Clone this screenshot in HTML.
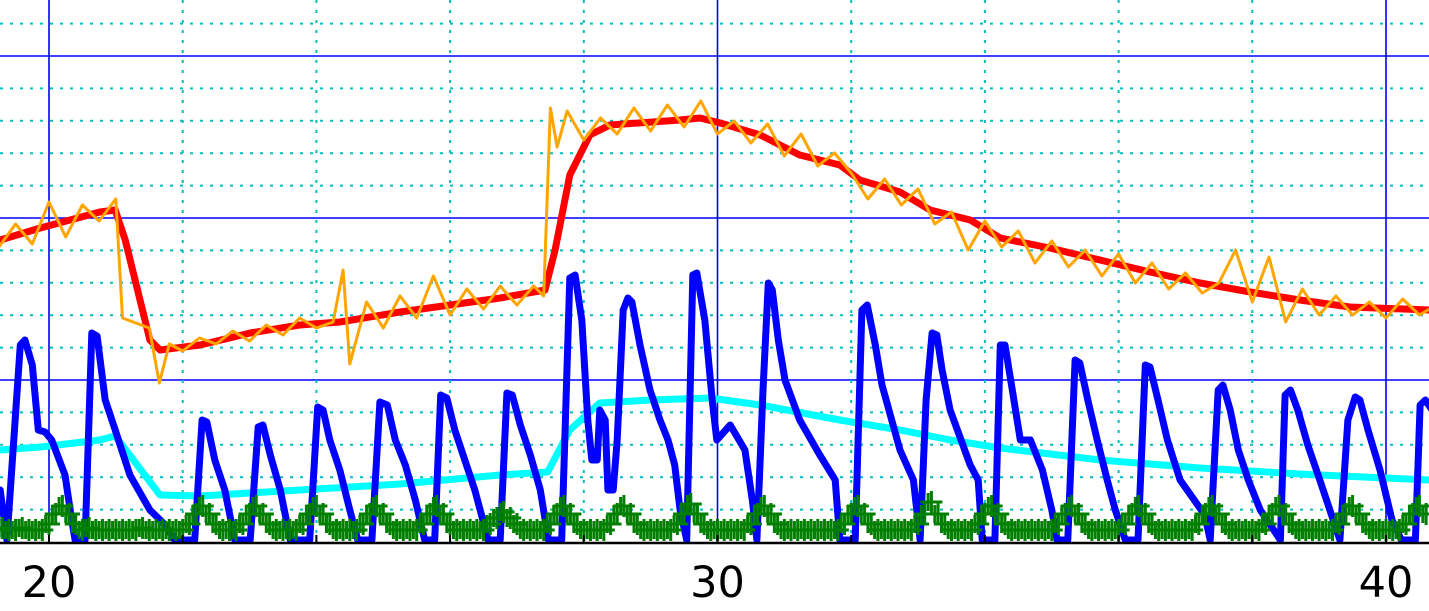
<!DOCTYPE html>
<html><head><meta charset="utf-8"><style>
html,body{margin:0;padding:0;background:#fff;}
svg{display:block;}
text{font-family:"DejaVu Sans","Liberation Sans",sans-serif;}
</style></head><body>
<svg id="chart" width="1429" height="611" viewBox="0 0 1429 611" xmlns="http://www.w3.org/2000/svg">
<defs><clipPath id="plotClip"><rect x="0" y="0" width="1429" height="543"/></clipPath></defs>
<g id="grid"></g>
<g id="series" clip-path="url(#plotClip)"></g>
<g id="axis"></g>
</svg>
<script>
// ---- data ----
const xTickLabels = [20, 30, 40];
const xMinorTicks = [20, 22, 24, 26, 28, 30, 32, 34, 36, 38, 40];
const yMinorStep = 32.4;
const yMajorStep = 162;

const redX = [19.27,19.87,20.76,20.99,21.14,21.51,21.66,22.26,23.01,23.75,24.35,25.25,26.00,26.75,27.42,27.57,27.79,28.09,28.39,29.44,29.74,30.04,30.64,31.23,31.83,32.13,32.73,33.18,33.78,34.23,34.97,35.72,36.47,37.22,37.97,38.71,39.46,40.64];
const redY = [302,314,330,332,302,202,192,197,209,217,220,230,237,244,252,292,367,407,417,422,424,419,407,387,377,362,350,332,322,304,294,282,270,259,250,242,235,232];

const orangeX = [19.25,19.5,19.75,20.0,20.25,20.5,20.75,21.0,21.1,21.5,21.65,21.8,22.0,22.25,22.5,22.75,23.0,23.25,23.5,23.75,24.0,24.25,24.4,24.5,24.75,25.0,25.25,25.5,25.75,26.0,26.25,26.5,26.75,27.0,27.25,27.4,27.5,27.6,27.75,28.0,28.25,28.5,28.75,29.0,29.25,29.5,29.75,30.0,30.25,30.5,30.75,31.0,31.25,31.5,31.75,32.0,32.25,32.5,32.75,33.0,33.25,33.5,33.75,34.0,34.25,34.5,34.75,35.0,35.25,35.5,35.75,36.0,36.25,36.5,36.75,37.0,37.25,37.5,37.75,38.0,38.25,38.5,38.75,39.0,39.25,39.5,39.75,40.0,40.25,40.5,40.65];
const orangeY = [295,318,298,340,305,337,321,343,224,214,159,198,191,204,198,211,201,217,207,224,214,220,272,178,240,214,246,224,266,227,253,233,256,237,256,246,434,395,431,402,424,408,434,411,437,415,441,408,421,399,418,386,408,376,389,369,343,363,337,353,318,330,292,321,295,311,279,301,275,292,266,288,259,279,253,269,249,259,292,240,285,220,253,227,246,227,240,224,243,227,233];

const cyanX = [19.27,19.87,20.76,20.99,21.66,22.26,23.75,25.25,26.75,27.46,27.79,28.24,28.99,29.89,30.64,31.83,32.73,33.48,34.23,35.72,37.22,38.71,40.64];
const cyanY = [92,95,102,106,47,46,52,58,67,70,112,139,142,144,137,122,112,102,94,82,74,68,62];

const blueX = [19.27,19.37,19.57,19.64,19.75,19.84,19.94,20.04,20.24,20.34,20.39,20.54,20.64,20.72,20.84,20.99,21.21,21.51,21.74,21.88,22.18,22.29,22.36,22.48,22.63,22.78,23.01,23.13,23.20,23.31,23.46,23.61,23.90,24.02,24.10,24.20,24.35,24.50,24.62,24.83,24.95,25.06,25.18,25.33,25.48,25.62,25.77,25.86,25.95,26.07,26.22,26.37,26.57,26.75,26.85,26.93,27.05,27.20,27.35,27.47,27.67,27.79,27.87,27.97,28.06,28.12,28.20,28.24,28.32,28.36,28.44,28.50,28.59,28.66,28.72,28.84,28.99,29.14,29.26,29.36,29.44,29.54,29.63,29.69,29.81,29.92,29.99,30.19,30.41,30.52,30.59,30.68,30.76,30.82,30.91,31.01,31.23,31.53,31.76,31.83,32.06,32.16,32.24,32.36,32.46,32.73,32.93,33.03,33.12,33.21,33.28,33.36,33.48,33.78,33.90,33.96,34.15,34.23,34.30,34.41,34.53,34.68,34.86,35.00,35.08,35.24,35.35,35.42,35.54,35.68,35.83,35.95,36.10,36.29,36.40,36.47,36.59,36.73,36.92,37.29,37.37,37.49,37.56,37.67,37.79,37.94,38.12,38.42,38.49,38.57,38.68,38.83,39.01,39.31,39.43,39.54,39.61,39.73,39.91,40.09,40.23,40.44,40.51,40.59,40.69];
const blueY = [52,2,197,202,177,112,110,102,67,22,2,2,209,206,142,112,67,32,17,2,2,122,120,82,52,2,2,115,117,87,52,2,2,135,132,102,72,32,2,2,140,137,102,77,42,2,2,147,144,112,82,52,2,2,149,147,117,87,52,2,2,264,267,222,122,82,82,132,122,52,52,102,232,244,240,197,152,122,102,77,32,2,267,269,222,142,102,117,92,42,2,152,259,252,202,162,122,87,62,2,2,232,237,197,157,92,62,2,142,209,207,172,132,77,62,2,2,197,197,152,102,102,72,32,2,2,182,179,142,102,62,32,2,2,177,175,142,102,62,27,2,152,157,132,92,62,32,2,147,152,132,97,62,2,122,145,142,112,72,22,2,2,137,142,132];

const greenStart = 19.3;
const greenStep = 0.1;
const greenY = [14,12,12,14,12,12,12,18,28,36, 28,18,12,14,12,12,12,12,12,12, 12,14,12,12,12,12,12,12,18,28, 36,28,18,12,12,12,18,28,36,28, 18,12,12,12,12,18,28,36,28,18, 12,12,12,12,18,28,36,28,18,12, 12,12,12,18,28,36,28,18,12,12, 12,12,12,18,24,30,24,18,12,12, 12,12,18,28,36,28,18,12,12,12, 12,18,28,36,28,18,12,12,12,12, 12,18,28,38,28,18,12,12,12,12, 12,12,18,28,36,28,18,12,12,12, 12,12,12,12,12,12,18,28,36,28, 18,12,12,12,12,12,12,18,28,40, 28,18,12,12,12,12,18,28,36,28, 18,12,12,12,12,12,12,12,18,28, 36,28,18,12,12,12,12,12,18,28, 36,28,18,12,12,12,12,12,12,18, 28,36,28,18,12,12,12,12,12,18, 28,36,28,18,12,12,12,12,12,12, 18,28,36,28,18,12,12,12,12,12, 18,28,36,28];

// ---- axes ----
const X0 = 49, PXU = 66.85, Y0 = 542;
function xs(v){ return X0 + (v - 20) * PXU; }
function ys(v){ return Y0 - v; }

const NS = "http://www.w3.org/2000/svg";
function mk(tag, attrs, parent){
  const e = document.createElementNS(NS, tag);
  for (const k in attrs) e.setAttribute(k, attrs[k]);
  parent.appendChild(e);
  return e;
}
const grid = document.getElementById('grid');
const series = document.getElementById('series');
const axis = document.getElementById('axis');

for (let v = 0; v <= 560; v += yMinorStep) {
  const isMajor = Math.abs((v / yMajorStep) - Math.round(v / yMajorStep)) < 0.01;
  if (v === 0) continue;
  const l = mk('line', {x1:0, x2:1429, y1:ys(v), y2:ys(v),
    stroke: isMajor ? '#0000ff' : '#00bfbf', 'stroke-width': isMajor ? 1.6 : 2,
    'stroke-dasharray': isMajor ? 'none' : '3,7'}, grid);
  
  
}
xMinorTicks.forEach(v => {
  const isMajor = xTickLabels.includes(v);
  const l = mk('line', {x1:xs(v), x2:xs(v), y1:0, y2:Y0,
    stroke: isMajor ? '#0000ff' : '#00bfbf', 'stroke-width': isMajor ? 1.6 : 2,
    'stroke-dasharray': isMajor ? 'none' : '3,7'}, grid);
  
  
});

function poly(xa, ya, color, w, name){
  const pts = xa.map((x, i) => xs(x).toFixed(1) + ',' + ys(ya[i]).toFixed(1)).join(' ');
  const p = mk('polyline', {points:pts, fill:'none', stroke:color, 'stroke-width':w,
    'stroke-linejoin':'round', 'stroke-linecap':'round'}, series);
  
  
}
poly(cyanX, cyanY, '#00ffff', 7, 'cyan-series-line');
poly(blueX, blueY, '#0000ff', 7, 'blue-series-line');
poly(redX, redY, '#ff0000', 7, 'red-series-line');
poly(orangeX, orangeY, '#ffa500', 3, 'orange-series-line');

const gG = mk('g', {stroke:'#007f00', 'stroke-width':3}, series);


greenY.forEach((v, i) => {
  const cx = xs(greenStart + i * greenStep), cy = ys(v), s = 11;
  const m = mk('path', {d:`M${cx-s},${cy}H${cx+s}M${cx},${cy-s}V${cy+s}M${cx-3.3},${cy-9}V${cy+9}`}, gG);
  
  
});

const ax = mk('line', {x1:0, x2:1429, y1:543, y2:543, stroke:'#000', 'stroke-width':2.5}, axis);


xMinorTicks.forEach(v => {
  const t = mk('line', {x1:xs(v), x2:xs(v), y1:543, y2:535, stroke:'#000', 'stroke-width':2}, axis);
  
  
});
xTickLabels.forEach(v => {
  const t = mk('text', {x:xs(v), y:597, 'text-anchor':'middle', 'font-size':43, fill:'#000'}, axis);
  t.textContent = String(v);
  
  
});
</script>
</body></html>
